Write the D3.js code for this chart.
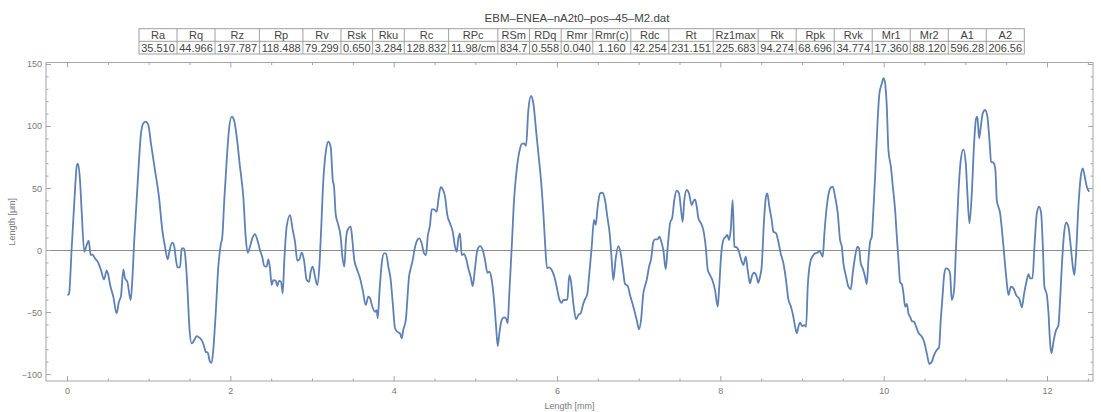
<!DOCTYPE html>
<html><head><meta charset="utf-8">
<script src="https://cdn.jsdelivr.net/npm/d3@7"></script>
<style>body{margin:0;background:#fff}svg{display:block}</style>
</head><body>
<svg id="c" width="1101" height="412"></svg>
<script>
const title = "EBM–ENEA–nA2t0–pos–45–M2.dat";
const paramNames = ["Ra","Rq","Rz","Rp","Rv","Rsk","Rku","Rc","RPc","RSm","RDq","Rmr","Rmr(c)","Rdc","Rt","Rz1max","Rk","Rpk","Rvk","Mr1","Mr2","A1","A2"];
const paramValues = ["35.510","44.966","197.787","118.488","79.299","0.650","3.284","128.832","11.98/cm","834.7","0.558","0.040","1.160","42.254","231.151","225.683","94.274","68.696","34.774","17.360","88.120","596.28","206.56"];
const xTicks = [0,2,4,6,8,10,12];
const yTicks = [-100,-50,0,50,100,150];
const xLabel = "Length [mm]";
const yLabel = "Length [μm]";
const profileX = [0.0,0.02,0.05,0.085,0.116,0.13,0.153,0.173,0.206,0.235,0.26,0.284,0.304,0.337,0.37,0.41,0.447,0.48,0.5,0.52,0.561,0.602,0.63,0.655,0.684,0.704,0.733,0.774,0.794,0.818,0.847,0.876,0.9,0.929,0.957,0.99,1.022,1.071,1.12,1.161,1.194,1.227,1.255,1.284,1.308,1.329,1.349,1.378,1.398,1.427,1.447,1.472,1.492,1.521,1.553,1.582,1.61,1.643,1.672,1.692,1.717,1.745,1.765,1.785,1.815,1.847,1.876,1.896,1.92,1.95,1.977,2.011,2.039,2.072,2.112,2.153,2.182,2.207,2.235,2.263,2.296,2.325,2.357,2.386,2.41,2.439,2.459,2.48,2.5,2.52,2.55,2.569,2.59,2.615,2.635,2.655,2.684,
2.725,2.758,2.786,2.814,2.84,2.868,2.896,2.929,2.957,2.978,3.003,3.031,3.059,3.084,3.104,3.133,3.166,3.194,3.223,3.248,3.264,3.284,3.316,3.345,3.366,3.39,3.41,3.427,3.468,3.488,3.512,3.541,3.582,3.615,3.652,3.684,3.705,3.733,3.766,3.786,3.799,3.819,3.848,3.876,3.9,3.929,3.958,3.983,4.011,4.039,4.072,4.092,4.112,4.145,4.161,4.182,4.203,4.227,4.256,4.284,4.308,4.337,4.366,4.39,4.411,4.439,4.46,4.488,4.521,4.541,4.57,4.594,4.623,4.651,4.684,4.717,4.745,4.766,4.786,4.806,4.827,4.856,4.88,4.908,4.937,4.962,4.99,5.019,5.052,5.085,5.113,5.142,5.166,5.195,5.223,5.248,5.268,5.288,5.317,5.345,5.37,5.39,5.41,5.44,5.468,5.5,5.533,5.562,5.59,5.615,
5.643,5.676,5.704,5.745,5.774,5.798,5.827,5.848,5.872,5.897,5.929,5.962,5.99,6.023,6.052,6.072,6.093,6.121,6.145,6.166,6.194,6.227,6.255,6.284,6.317,6.337,6.366,6.39,6.419,6.447,6.468,6.492,6.521,6.549,6.582,6.61,6.643,6.664,6.684,6.713,6.745,6.774,6.807,6.827,6.86,6.888,6.929,6.97,6.998,7.023,7.051,7.072,7.092,7.121,7.145,7.174,7.194,7.223,7.247,7.276,7.296,7.325,7.35,7.378,7.406,7.43,7.46,7.488,7.513,7.533,7.553,7.582,7.61,7.643,7.662,7.684,7.705,7.725,7.758,7.786,7.815,7.84,7.868,7.896,7.929,7.962,7.978,8.002,8.031,8.06,8.08,8.1,8.121,8.145,8.166,8.194,8.222,8.247,8.276,8.305,8.329,8.357,8.378,8.406,8.439,8.459,
8.48,8.5,8.529,8.553,8.569,8.594,8.623,8.643,8.676,8.704,8.733,8.766,8.798,8.827,8.856,8.888,8.909,8.93,8.95,8.97,8.998,9.023,9.044,9.064,9.092,9.125,9.154,9.182,9.207,9.227,9.248,9.268,9.297,9.325,9.35,9.371,9.399,9.432,9.46,9.481,9.501,9.534,9.562,9.591,9.615,9.644,9.672,9.693,9.713,9.738,9.766,9.787,9.807,9.828,9.848,9.868,9.889,9.918,9.942,9.972,9.991,10.012,10.032,10.052,10.082,10.106,10.134,10.155,10.175,10.196,10.216,10.236,10.257,10.277,10.297,10.318,10.339,10.367,10.391,10.42,10.461,10.489,10.522,10.554,10.583,10.611,10.644,10.672,10.693,10.717,10.737,10.758,10.786,10.807,10.827,10.856,10.88,10.909,10.938,10.97,10.999,11.019,11.044,11.073,11.101,11.126,11.141,11.162,11.183,11.207,11.236,11.264,11.289,11.31,11.338,11.362,
11.379,11.42,11.461,11.494,11.522,11.551,11.583,11.616,11.657,11.686,11.714,11.747,11.767,11.788,11.816,11.84,11.869,11.897,11.922,11.943,11.962,11.992,12.012,12.032,12.048,12.073,12.102,12.134,12.154,12.175,12.203,12.228,12.256,12.285,12.31,12.329,12.35,12.378,12.407,12.432,12.452,12.481,12.51];
const profileY = [-36.1,-34.5,0,40.7,69,69.8,56.9,32.7,-1,4.4,7.9,-3.6,-3.1,-6.3,-9,-15.7,-23.3,-16.3,-19.8,-27,-37.2,-50.6,-41.3,-36.7,-15.2,-22.4,-25.2,-39.9,-23.8,8.5,40.7,73,94.5,102.6,103.9,101.2,86.4,64.9,43.4,16.5,3.1,-7.1,1.7,6.3,3.1,-7.7,-13.6,-13.6,1.7,1.7,-7.7,-34.5,-61.4,-74.9,-72.2,-69,-70,-72.2,-77,-81.6,-82.4,-89.7,-90.5,-80.2,-50.6,-13,4.4,11.1,40.7,73,97.2,107.9,105.2,91.8,67.6,43.4,11.1,-1.8,3.1,9.8,13.3,8.5,0.4,-5.5,-12.5,-13,-7.1,-14.4,-27.8,-23.8,-24.4,-28.6,-24.4,-25.2,-34.5,-7.7,19.2,
28.6,16.5,7.1,-8.2,-7.1,-1.8,-7.7,-23.8,-25.2,-17.1,-13,-21.1,-27.8,-13,13.9,56.9,81,87.7,83.7,56.9,51.5,29.4,20.6,11.1,-5,-13,8.5,16,19.2,8.5,-7.7,-14.4,-22.4,-31.9,-44,-37.2,-38.5,-45.3,-49.4,-48,-54.7,-34.5,-10.3,-2.3,-2.3,-13,-23.8,-42.6,-62.7,-65.5,-66.8,-70.8,-64.1,-54.7,-39.9,-21.1,-14.4,-7.7,3.1,8.5,9.8,5.8,-2.3,-3.6,11.1,20.6,33.2,33.2,31.3,40.7,51,49.4,43.4,28.6,21.9,15.2,3.1,-1,9.8,13.9,-3.6,-2.8,-6.3,-14.4,-21.1,-28.6,-14.4,0.4,3.6,0.4,-7.7,-17.9,-17.1,-23.8,-39.9,-61.4,-77,-66.8,-56,-53.9,-54.7,-58.7,-34.5,3.1,40.7,64.9,79.7,85.9,86.4,84.3,
113.3,124.6,118.7,91.8,73,56.9,30,5.8,-14.4,-13.6,-15.7,-21.1,-29.2,-39.4,-42.1,-39.9,-39.9,-39.4,-19.8,-25.2,-42.6,-55.5,-52,-50.6,-42.6,-39.4,-34.5,-18.4,3.1,24.6,20.6,35.3,46.1,46.6,40.7,27.3,11.1,-7.7,-23.8,-6.3,3.6,-2.3,-18.4,-27,-28.6,-35.9,-45.3,-56,-63.5,-56,-34.5,-28.6,-23.8,-13,-7.1,7.1,9,9,11.1,5.8,0.4,-15.2,3.1,21.9,26.8,40.7,48.2,46.1,32.7,23.2,40.7,48.8,46.1,36.7,39.4,41.3,35.3,26,21.9,16.5,3.1,-15.7,-19.8,-23.8,-31.9,-45.3,-31.9,-5,8.5,11.1,12.5,8.5,16.5,40.7,3.1,2.6,-1,-7.1,-11.7,-5,-15.7,-26.5,-21.1,-17.9,-21.1,-26,
-21.1,-13,24.6,43.4,46.1,35.3,24.6,15.2,13.9,7.1,-2.3,-10.3,-23.8,-39.4,-44.8,-53.4,-61.4,-66.8,-61.4,-58.2,-60.9,-60.1,-61.4,-29.2,-10.3,-4.4,-2.3,-1.8,-0.4,-2.3,-5,13.9,35.3,47.4,51,51.5,43.4,30,8.5,3.1,-10.3,-21.1,-29.2,-31.3,-18.4,-5,3.1,1.7,-10.3,-14.4,-21.1,-27,-7.7,7.1,11.1,32.7,59.5,102.6,126.8,134.8,138.9,134.8,116,81,67.6,51.5,32.7,11.1,-7.7,-26,-27,-34.5,-45.3,-43.1,-50.6,-53.4,-56.9,-57.4,-61.4,-66.3,-69.5,-73.5,-82.9,-91.5,-89.7,-84.3,-80.2,-78.1,-56,-34.5,-18.4,-14.4,-15.2,-18.4,-39.9,-31.9,3.1,46.1,73,81.6,70.3,46.1,21.9,46.1,86.4,106.6,107.9,90.5,99.8,110.6,113.3,107.9,89.1,71.6,70.8,64.9,
40.7,30,3.1,-21.1,-35.9,-29.2,-30.5,-35.9,-39.4,-45.8,-34.5,-23.8,-19,-22.4,-22.4,3.1,30,35.3,30,3.1,-29.2,-35.9,-50.6,-74.8,-82.9,-73.5,-64.7,-60.1,-39.9,-13,13.9,22.4,19.2,3.1,-13,-19.8,-2.3,35.3,59.5,66.3,60.9,51.5,47.4];

const svg = d3.select("#c");
const FONT = "'Liberation Sans', Arial, sans-serif";
svg.append("rect").attr("width",1101).attr("height",412).attr("fill","#fff");

// plot frame
const L = 46, R = 1093, T = 62.5, B = 381;
const x = d3.scaleLinear().domain([-0.263, 12.557]).range([L, R]);
const y = d3.scaleLinear().domain([-105.2, 151.6]).range([B, T]);
const frameCol = "#a6a6a6";
const labCol = "#7a7a7a";

// zero axis line
svg.append("line").attr("x1",L).attr("x2",R).attr("y1",y(0)).attr("y2",y(0))
  .attr("stroke","#8c8c8c").attr("stroke-width",1);

// ticks
const xMinor = d3.range(0, 12.6, 0.5).filter(v => !xTicks.includes(v));
const yMinor = d3.range(-100, 151, 10).filter(v => !yTicks.includes(v));
const g = svg.append("g").attr("stroke", frameCol).attr("stroke-width", 1);
xTicks.forEach(v => {
  g.append("line").attr("x1",x(v)).attr("x2",x(v)).attr("y1",B).attr("y2",B-5);
  g.append("line").attr("x1",x(v)).attr("x2",x(v)).attr("y1",T).attr("y2",T+5);
});
xMinor.forEach(v => {
  g.append("line").attr("x1",x(v)).attr("x2",x(v)).attr("y1",B).attr("y2",B-2.5);
  g.append("line").attr("x1",x(v)).attr("x2",x(v)).attr("y1",T).attr("y2",T+2.5);
});
yTicks.forEach(v => {
  g.append("line").attr("x1",L).attr("x2",L+5).attr("y1",y(v)).attr("y2",y(v));
  g.append("line").attr("x1",R).attr("x2",R-5).attr("y1",y(v)).attr("y2",y(v));
});
yMinor.forEach(v => {
  g.append("line").attr("x1",L).attr("x2",L+2.5).attr("y1",y(v)).attr("y2",y(v));
  g.append("line").attr("x1",R).attr("x2",R-2.5).attr("y1",y(v)).attr("y2",y(v));
});
svg.append("rect").attr("x",L).attr("y",T).attr("width",R-L).attr("height",B-T)
  .attr("fill","none").attr("stroke",frameCol).attr("stroke-width",1);

// tick labels
svg.append("g").selectAll("text").data(xTicks).join("text")
  .attr("x", d => x(d)).attr("y", B + 13).attr("text-anchor","middle")
  .attr("font-family",FONT).attr("font-size",9).attr("fill",labCol)
  .text(d => d3.format("")(d));
svg.append("g").selectAll("text").data(yTicks).join("text")
  .attr("x", L - 4).attr("y", d => y(d) + 3).attr("text-anchor","end")
  .attr("font-family",FONT).attr("font-size",9).attr("fill",labCol)
  .text(d => d < 0 ? "\u2212" + Math.abs(d) : String(d));

svg.append("text").attr("x", (L+R)/2).attr("y", 409).attr("text-anchor","middle")
  .attr("font-family",FONT).attr("font-size",9).attr("fill",labCol).text(xLabel);
svg.append("text").attr("transform", `translate(15,${(T+B)/2}) rotate(-90)`).attr("text-anchor","middle")
  .attr("font-family",FONT).attr("font-size",9).attr("fill",labCol).text(yLabel);

// profile line
const pts = profileX.map((v,i) => [v, profileY[i]]);
svg.append("path").datum(pts)
  .attr("d", d3.line().x(d => x(d[0])).y(d => y(d[1])).curve(d3.curveMonotoneX))
  .attr("fill","none").attr("stroke","#5e81b5").attr("stroke-width",1.8)
  .attr("stroke-linejoin","round");

// title
svg.append("text").attr("x", 577).attr("y", 22).attr("text-anchor","middle")
  .attr("font-family",FONT).attr("font-size",11.5).attr("fill","#444").text(title);

// parameter table
const tFont = 11;
const meas = svg.append("text").attr("font-family",FONT).attr("font-size",tFont).attr("visibility","hidden");
const raw = paramNames.map((n,i) => {
  meas.text(n); const a = meas.node().getComputedTextLength();
  meas.text(paramValues[i]); const b = meas.node().getComputedTextLength();
  return Math.max(a,b) + 3;
});
meas.remove();
const tableL = 139, tableR = 1024.3, rowT = 28.7, rowM = 41.3, rowB = 54;
const sum = d3.sum(raw);
const k = (tableR - tableL) / sum;
const edges = [tableL];
raw.forEach(w => edges.push(edges[edges.length-1] + w*k));
const tg = svg.append("g");
tg.append("rect").attr("x",tableL).attr("y",rowT).attr("width",tableR-tableL).attr("height",rowB-rowT)
  .attr("fill","none").attr("stroke","#a0a0a0").attr("stroke-width",1);
tg.append("line").attr("x1",tableL).attr("x2",tableR).attr("y1",rowM).attr("y2",rowM)
  .attr("stroke","#a0a0a0");
edges.slice(1,-1).forEach(e => tg.append("line").attr("x1",e).attr("x2",e).attr("y1",rowT).attr("y2",rowB).attr("stroke","#a0a0a0"));
paramNames.forEach((n,i) => {
  const cx = (edges[i]+edges[i+1])/2;
  tg.append("text").attr("x",cx).attr("y",rowM-2.5).attr("text-anchor","middle")
    .attr("font-family",FONT).attr("font-size",tFont).attr("fill","#444").text(n);
  tg.append("text").attr("x",cx).attr("y",rowB-2.5).attr("text-anchor","middle")
    .attr("font-family",FONT).attr("font-size",tFont).attr("fill","#444").text(paramValues[i]);
});
</script>
</body></html>
